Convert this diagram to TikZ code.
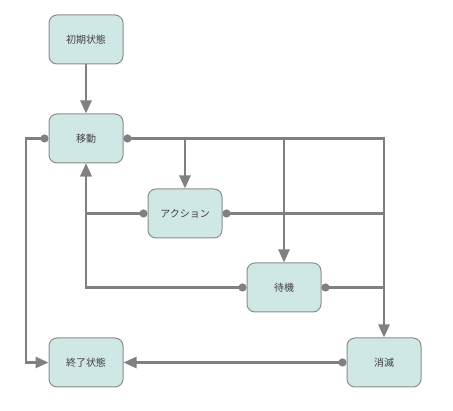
\documentclass[tikz,border=0pt]{standalone}
\usepackage{fontspec}
\newfontfamily\cjk{Noto Sans CJK JP}
\usetikzlibrary{arrows.meta}
\definecolor{boxfill}{HTML}{D0E8E5}
\definecolor{boxline}{HTML}{8C8C8C}
\definecolor{wire}{HTML}{808080}
\definecolor{txt}{HTML}{404040}
\begin{document}
\begin{tikzpicture}[x=1pt,y=-1pt,
  state/.style={draw=boxline, fill=boxfill, rounded corners=8pt, line width=1pt,
    minimum width=74pt, minimum height=49pt, inner sep=0pt, text=txt,
    font=\cjk\fontsize{10}{12}\selectfont},
  wirel/.style={draw=wire, line width=2.5pt},
  arr/.style={wirel, -{Triangle[length=13pt,width=11pt]}},
  darr/.style={wirel, {Circle[length=8pt]}-{Triangle[length=13pt,width=11pt]}},
  dline/.style={wirel, {Circle[length=8pt]}-}]
\useasboundingbox (0,0) rectangle (453,411);
\node[state] (init) at (86,39.5) {初期状態};
\node[state] (move) at (86,138.5) {移動};
\node[state] (act) at (185,213.5) {アクション};
\node[state] (wait) at (284,287.5) {待機};
\node[state] (fin) at (86,362.5) {終了状態};
\node[state] (van) at (384,362.5) {消滅};
\coordinate (lx) at (26,138.5);
% edges
\draw[arr] (init.south) -- (move.north);
\draw[darr] (move.east) -| (van.north);
\draw[arr] (move.east -| act.north) -- (act.north);
\draw[arr] (move.east -| wait.north) -- (wait.north);
\draw[dline] (act.east) -- (act.east -| van.north);
\draw[dline] (wait.east) -- (wait.east -| van.north);
\draw[darr] (act.west) -| (move.south);
\draw[darr] (wait.west) -| (move.south);
\draw[darr] (move.west) -- (lx) |- (fin.west);
\draw[darr] (van.west) -- (fin.east);
\end{tikzpicture}
\end{document}
